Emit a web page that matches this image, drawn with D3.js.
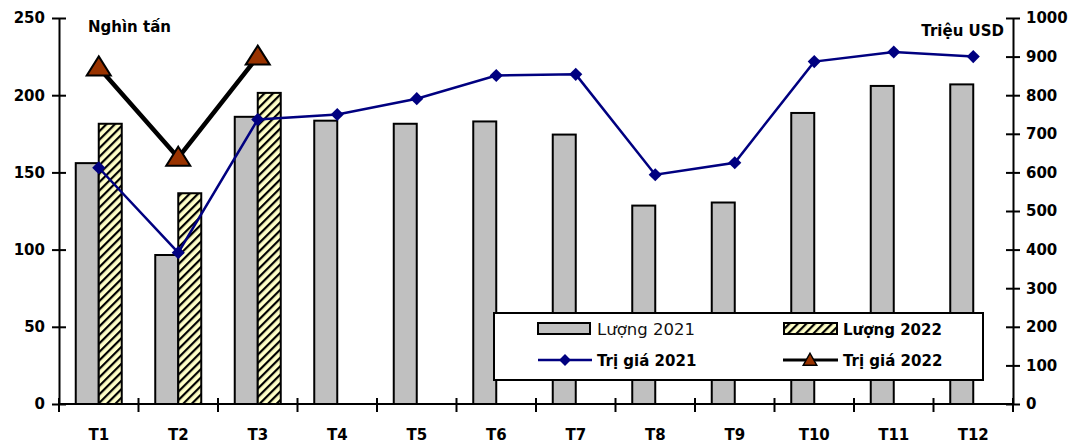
<!DOCTYPE html>
<html><head><meta charset="utf-8">
<script src="https://cdn.jsdelivr.net/npm/d3@7"></script>
<style>body{margin:0;background:#fff}svg{display:block}text{font-family:"DejaVu Sans",Verdana,sans-serif;font-weight:bold}</style>
</head><body>
<script>
const months = ["T1","T2","T3","T4","T5","T6","T7","T8","T9","T10","T11","T12"];
const luong2021 = [156,96.5,186,183.5,181.5,183,174.5,128.5,130.5,188.5,206,207];
const luong2022 = [181.5,136.5,201.5];
const trigia2021 = [612,392,737,750,791,851,854,594,625,887,912,900];
const trigia2022 = [872,638,900];
const leftTicks = [0,50,100,150,200,250];
const rightTicks = [0,100,200,300,400,500,600,700,800,900,1000];

const W=1075,H=445;
const svg=d3.select("body").append("svg").attr("width",W).attr("height",H);
const m={l:59,r:1013,t:18,b:404};
const x=d3.scaleBand().domain(months).range([m.l,m.r]);
const yL=d3.scaleLinear().domain([0,250]).range([m.b,m.t]);
const yR=d3.scaleLinear().domain([0,1000]).range([m.b,m.t]);

const defs=svg.append("defs");
const pat=defs.append("pattern").attr("id","hatch").attr("patternUnits","userSpaceOnUse")
  .attr("width",6).attr("height",6).attr("patternTransform","rotate(45)");
pat.append("rect").attr("width",6).attr("height",6).attr("fill","#ffffc8");
pat.append("rect").attr("x",0).attr("width",2.2).attr("height",6).attr("fill","#000");

const bw=23;
const cx=d=>x(d)+x.bandwidth()/2;
svg.append("g").selectAll("rect").data(luong2021).join("rect")
  .attr("x",(d,i)=>cx(months[i])-bw).attr("y",d=>yL(d)).attr("width",bw).attr("height",d=>yL(0)-yL(d))
  .attr("fill","#c0c0c0").attr("stroke","#000").attr("stroke-width",2);
svg.append("g").selectAll("rect").data(luong2022).join("rect")
  .attr("x",(d,i)=>cx(months[i])).attr("y",d=>yL(d)).attr("width",bw).attr("height",d=>yL(0)-yL(d))
  .attr("fill","url(#hatch)").attr("stroke","#000").attr("stroke-width",2);

// legend (drawn over bars)
const lg=svg.append("g");
lg.append("rect").attr("x",494).attr("y",313).attr("width",489).attr("height",67).attr("fill","#fff").attr("stroke","#000").attr("stroke-width",2);
lg.append("rect").attr("x",538).attr("y",323).attr("width",52).attr("height",11).attr("fill","#c0c0c0").attr("stroke","#000").attr("stroke-width",2);
lg.append("rect").attr("x",784).attr("y",323).attr("width",53).attr("height",11).attr("fill","url(#hatch)").attr("stroke","#000").attr("stroke-width",2);
lg.append("text").attr("x",597).attr("y",335).attr("font-size",16.5).style("font-weight","normal").attr("fill","#111").text("Lượng 2021");
lg.append("text").attr("x",843).attr("y",335).attr("font-size",15).text("Lượng 2022");
lg.append("line").attr("x1",538).attr("x2",592).attr("y1",360).attr("y2",360).attr("stroke","#000080").attr("stroke-width",2.5);
lg.append("path").attr("d",d3.symbol(d3.symbolDiamond2,90)()).attr("transform","translate(565,360)").attr("fill","#000080");
lg.append("text").attr("x",597).attr("y",366).attr("font-size",15).text("Trị giá 2021");
lg.append("line").attr("x1",783).attr("x2",838).attr("y1",360).attr("y2",360).attr("stroke","#000").attr("stroke-width",3);
lg.append("path").attr("d","M0,-9L9,7L-9,7Z").attr("transform","translate(810,360) scale(0.75)").attr("fill","#993300").attr("stroke","#000").attr("stroke-width",2);
lg.append("text").attr("x",843).attr("y",366).attr("font-size",15).text("Trị giá 2022");

// lines
const line=d3.line().x((d,i)=>cx(months[i])).y(d=>yR(d));
svg.append("path").datum(trigia2021).attr("d",line).attr("fill","none").attr("stroke","#000080").attr("stroke-width",2.5);
svg.append("g").selectAll("path").data(trigia2021).join("path")
  .attr("d",d3.symbol(d3.symbolDiamond2,110)()).attr("transform",(d,i)=>`translate(${cx(months[i])},${yR(d)})`).attr("fill","#000080");
svg.append("path").datum(trigia2022).attr("d",line).attr("fill","none").attr("stroke","#000").attr("stroke-width",4.5);
svg.append("g").selectAll("path").data(trigia2022).join("path")
  .attr("d","M0,-11L12,8L-12,8Z").attr("transform",(d,i)=>`translate(${cx(months[i])},${yR(d)})`)
  .attr("fill","#993300").attr("stroke","#000").attr("stroke-width",2);

// axes
function styleAxis(g){g.select(".domain").attr("stroke","#000").attr("stroke-width",2);
  g.selectAll(".tick line").attr("stroke","#000").attr("stroke-width",2);
  g.selectAll("text").attr("font-size",15).attr("fill","#000").style("font-family","'DejaVu Sans',sans-serif").style("font-weight","bold");}
const gl=svg.append("g").attr("transform",`translate(${m.l},0)`).call(d3.axisLeft(yL).tickValues(leftTicks).tickFormat(d3.format("d")).tickSize(6).tickSizeOuter(0).tickPadding(8));
gl.selectAll(".tick line").attr("x2",7).attr("x1",-7);
styleAxis(gl);
const gr=svg.append("g").attr("transform",`translate(${m.r},0)`).call(d3.axisRight(yR).tickValues(rightTicks).tickFormat(d3.format("d")).tickSize(7).tickSizeOuter(0).tickPadding(6));
gr.selectAll(".tick line").attr("x1",-7).attr("x2",7);
styleAxis(gr);
const xb=d3.scaleLinear().domain([0,12]).range([m.l,m.r]);
const gx=svg.append("g").attr("transform",`translate(0,${m.b})`);
gx.append("line").attr("x1",m.l).attr("x2",m.r).attr("stroke","#000").attr("stroke-width",2);
gx.selectAll("line.t").data(d3.range(13)).join("line").attr("class","t")
  .attr("x1",d=>xb(d)).attr("x2",d=>xb(d)).attr("y1",-6).attr("y2",8).attr("stroke","#000").attr("stroke-width",2);
gx.selectAll("text").data(months).join("text").attr("x",d=>cx(d)).attr("y",36).attr("text-anchor","middle").attr("font-size",15).text(d=>d);

svg.append("text").attr("x",88).attr("y",32).attr("font-size",15).text("Nghìn tấn");
svg.append("text").attr("x",1004).attr("y",36).attr("text-anchor","end").attr("font-size",15).text("Triệu USD");
</script>
</body></html>
